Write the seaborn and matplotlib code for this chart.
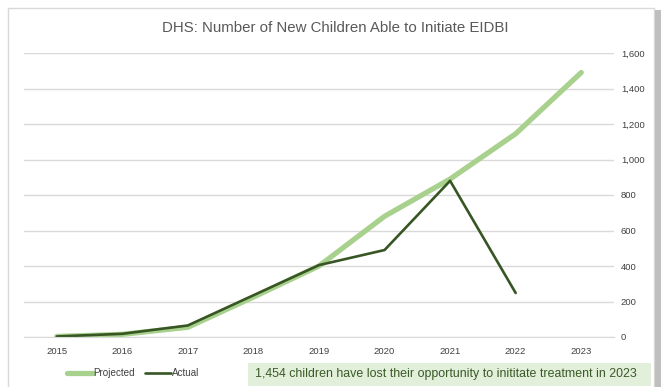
import matplotlib
matplotlib.use("Agg")
import matplotlib.pyplot as plt
import seaborn as sns
import pandas as pd
from matplotlib.patches import Rectangle
from matplotlib.lines import Line2D

years = [2015, 2016, 2017, 2018, 2019, 2020, 2021, 2022, 2023]
projected = [3, 15, 55, 225, 400, 680, 890, 1145, 1490]
actual_years = [2015, 2016, 2017, 2018, 2019, 2020, 2021, 2022]
actual = [3, 18, 65, 235, 405, 490, 880, 248]
yticks = [0, 200, 400, 600, 800, 1000, 1200, 1400, 1600]
title = "DHS: Number of New Children Able to Initiate EIDBI"
note = "1,454 children have lost their opportunity to inititate treatment in 2023"

sns.set_style("white")
plt.rcParams['font.family'] = ['Liberation Sans', 'DejaVu Sans']

df = pd.concat([
    pd.DataFrame({"Year": years, "Value": projected, "Series": "Projected"}),
    pd.DataFrame({"Year": actual_years, "Value": actual, "Series": "Actual"}),
])

fig = plt.figure(figsize=(6.61, 3.87), dpi=100)
ax = fig.add_axes([24/661, 1-337/387, (614-24)/661, (337-53)/387])

light = "#a9d18e"
dark = "#375623"
sns.lineplot(data=df, x="Year", y="Value", hue="Series", size="Series",
             palette={"Projected": light, "Actual": dark},
             sizes={"Projected": 3.8, "Actual": 1.9},
             ax=ax, legend=False)
for ln in ax.get_lines():
    ln.set_solid_capstyle("round")
    ln.set_solid_joinstyle("round")

ax.set_xlim(2014.5, 2023.5)
ax.set_ylim(0, 1600)
ax.set_xticks(years)
ax.set_xticklabels([str(y) for y in years])
ax.set_yticks(yticks)
ax.set_yticklabels([f"{v:,}" for v in yticks])
ax.yaxis.tick_right()
ax.tick_params(axis="both", length=0, labelsize=6.8, colors="#404040")
ax.tick_params(axis="y", pad=5)
ax.tick_params(axis="x", pad=7)
ax.grid(axis="y", color="#d9d9d9", linewidth=1)
ax.set_axisbelow(True)
for s in ["top", "left", "right"]:
    ax.spines[s].set_visible(False)
ax.spines["bottom"].set_color("#d9d9d9")
ax.set_xlabel("")
ax.set_ylabel("")

fig.text(335/661, 1-28/387, title, ha="center", va="center", fontsize=10.8, color="#595959")

# legend
handles = [Line2D([0], [0], color=light, lw=3.8), Line2D([0], [0], color=dark, lw=1.9)]
fig.legend(handles, ["Projected", "Actual"], loc="center left",
           bbox_to_anchor=(58/661, 1-373/387), ncol=2, frameon=False,
           fontsize=7.1, handlelength=2.6, handletextpad=0.1, columnspacing=1.0,
           labelcolor="#404040")

# note box
fig.patches.append(Rectangle((248/661, 1-386/387), (651-248)/661, 23/387,
                             transform=fig.transFigure, facecolor="#e2efda",
                             edgecolor="none", zorder=0))
fig.text(446/661, 1-374/387, note, ha="center", va="center", fontsize=8.9, color="#3a5a28")

# chart border
fig.patches.append(Rectangle((8/661, -0.05), (654-8)/661, 1.05 - 8/387,
                             transform=fig.transFigure, facecolor="none",
                             edgecolor="#d9d9d9", linewidth=1, zorder=0))
fig.patches.append(Rectangle((655/661, 0), 6/661, 1 - 10/387,
                             transform=fig.transFigure, facecolor="#bfbfbf",
                             edgecolor="none", zorder=0))

fig.savefig("out.png", dpi=100)
